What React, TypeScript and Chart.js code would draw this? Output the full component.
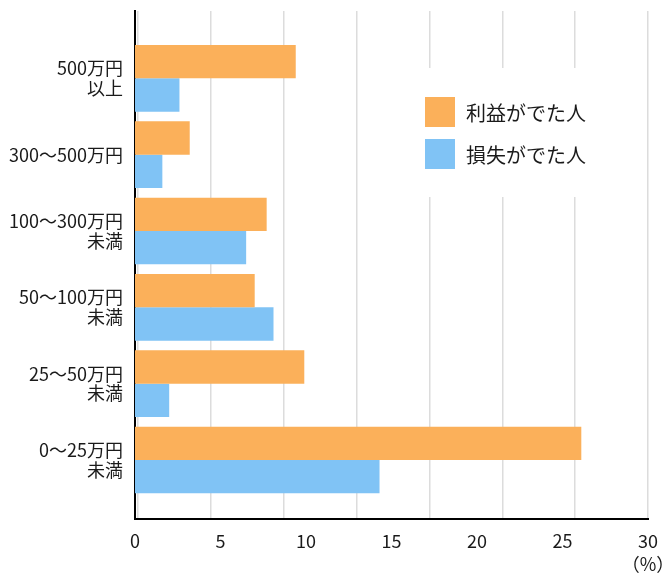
import React, { useEffect, useRef } from 'react';
import { Chart, registerables } from 'chart.js';

Chart.register(...registerables);

const categories: (string | string[])[] = [
  ['500万円', '以上'],
  '300～500万円',
  ['100～300万円', '未満'],
  ['50～100万円', '未満'],
  ['25～50万円', '未満'],
  ['0～25万円', '未満'],
];
const seriesNames = ['利益がでた人', '損失がでた人'];
const profitValues = [9.4, 3.2, 7.7, 7.0, 9.9, 26.1];
const lossValues = [2.6, 1.6, 6.5, 8.1, 2.0, 14.3];
const xTickMax = 30;
const xTickStep = 5;
const xUnitLabel = '（%）';
const gridDivisions = [0, 1, 2, 3, 4, 5, 6, 7];
const seriesColors = ['#FBB05A', '#80C3F5'];

const FONT = '"Noto Sans CJK JP", "Noto Sans", sans-serif';

const insideLegend = {
  id: 'insideLegend',
  afterDatasetsDraw(chart: any) {
    const { ctx, chartArea } = chart;
    const left = chartArea.left + 262;
    const top = chartArea.top + 57;
    ctx.save();
    ctx.fillStyle = '#ffffff';
    ctx.fillRect(left, top, 226, 129);
    ctx.font = `20px ${FONT}`;
    ctx.textBaseline = 'middle';
    ctx.textAlign = 'left';
    chart.data.datasets.forEach((ds: any, i: number) => {
      const y = top + 29 + i * 42;
      ctx.fillStyle = ds.backgroundColor;
      ctx.fillRect(left + 28, y, 30, 30);
      ctx.fillStyle = '#1a1a1a';
      ctx.fillText(ds.label, left + 69, y + 16);
    });
    ctx.restore();
  },
};

export default function App() {
  const ref = useRef<HTMLCanvasElement | null>(null);

  useEffect(() => {
    if (!ref.current) return;
    const chart = new Chart(ref.current, {
      type: 'bar',
      data: {
        datasets: [
          {
            label: seriesNames[0],
            data: profitValues.map((v, i) => ({ x: v, y: i })),
            backgroundColor: seriesColors[0],
          },
          {
            label: seriesNames[1],
            data: lossValues.map((v, i) => ({ x: v, y: i })),
            backgroundColor: seriesColors[1],
          },
        ],
      },
      options: {
        indexAxis: 'y',
        animation: false,
        responsive: true,
        maintainAspectRatio: false,
        datasets: {
          bar: { categoryPercentage: 0.874, barPercentage: 1.0 },
        },
        layout: { padding: { left: 0, top: 11, right: 22, bottom: 0 } },
        plugins: {
          legend: { display: false },
          tooltip: { enabled: false },
        },
        scales: {
          x: {
            type: 'linear',
            position: 'bottom',
            min: 0,
            max: xTickMax,
            bounds: 'data',
            z: 1,
            grid: { display: false, drawTicks: false },
            border: { display: true, color: '#000', width: 2 },
            ticks: {
              stepSize: xTickStep,
              padding: 10,
              color: '#1a1a1a',
              font: { family: FONT, size: 18, lineHeight: 1.3 },
              maxRotation: 0,
              callback: (v: any) => (v === xTickMax ? [String(v), xUnitLabel] : String(v)),
            },
            afterFit: (s: any) => {
              s.height = 61;
              s.paddingLeft = 0;
              s.paddingRight = 0;
            },
          },
          x2: {
            type: 'linear',
            axis: 'x',
            position: 'top',
            min: -0.04,
            max: 7,
            bounds: 'data',
            grid: { display: true, color: '#DCDCDC', lineWidth: 1.5, drawTicks: false },
            border: { display: false },
            ticks: { display: false },
            afterBuildTicks: (s: any) => {
              s.ticks = gridDivisions.map((v) => ({ value: v }));
            },
            afterFit: (s: any) => {
              s.height = 0;
              s.paddingLeft = 0;
              s.paddingRight = 0;
            },
          },
          y: {
            type: 'linear',
            reverse: true,
            min: -0.882,
            max: 5.773,
            bounds: 'data',
            offset: false,
            z: 1,
            grid: { display: false, drawTicks: false, offset: false },
            border: { display: true, color: '#000', width: 2 },
            ticks: {
              autoSkip: false,
              padding: 12,
              color: '#1a1a1a',
              font: { family: FONT, size: 18, lineHeight: 1.1 },
              callback: (v: any) => (Number.isInteger(v) ? categories[v] ?? '' : ''),
            },
            afterBuildTicks: (s: any) => {
              s.ticks = categories.map((_, i) => ({ value: i }));
            },
            afterFit: (s: any) => {
              s.width = 135;
              s.paddingTop = 0;
              s.paddingBottom = 0;
            },
          },
        },
      },
      plugins: [insideLegend],
    });
    return () => chart.destroy();
  }, []);

  return (
    <div style={{ position: 'fixed', left: 0, top: 0, width: 670, height: 580, background: '#fff' }}>
      <canvas ref={ref} />
    </div>
  );
}
